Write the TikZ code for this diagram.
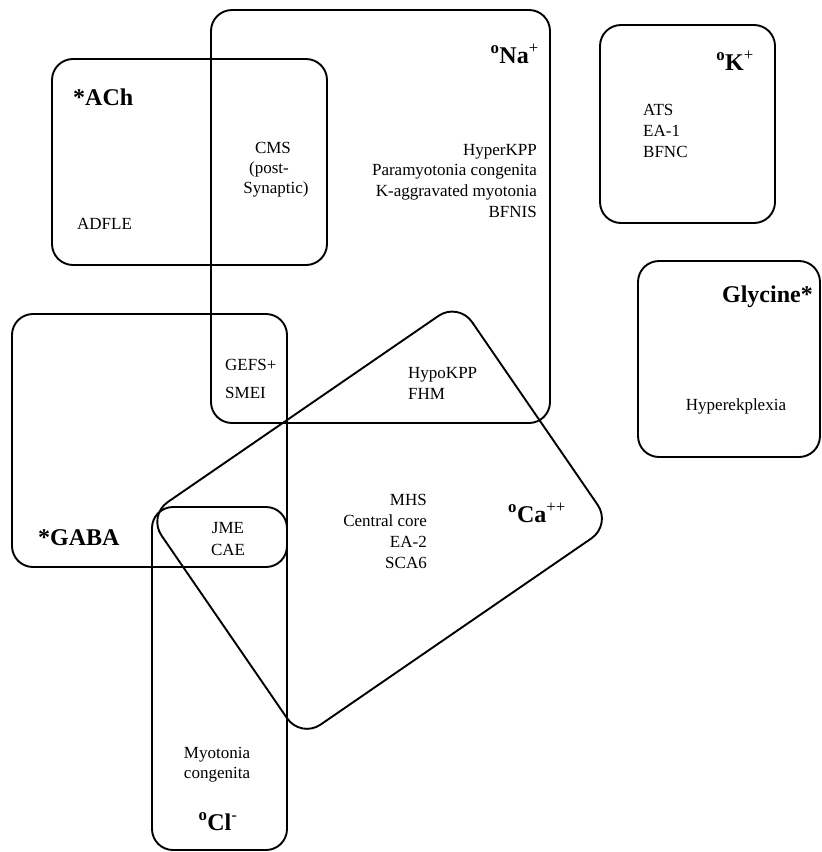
\documentclass[tikz,border=0pt]{standalone}
\usepackage{fontspec}
\setmainfont{Liberation Serif}
\begin{document}
\begin{tikzpicture}[x=1pt,y=-1pt,
  box/.style={draw, line width=1.9pt, rounded corners=21pt},
  lbl/.style={font=\fontsize{17}{20.7}\selectfont, inner sep=0pt},
  ttl/.style={font=\fontsize{24}{28}\selectfont\bfseries, inner sep=0pt}]
\useasboundingbox (0,0) rectangle (822,852);
% sets
\draw[box] (211,10) rectangle (550,423);   % Na
\draw[box] (52,59) rectangle (327,265);    % ACh
\draw[box] (600,25) rectangle (775,223);   % K
\draw[box] (638,261) rectangle (820,457);  % Glycine
\draw[box] (12,314) rectangle (287,567);   % GABA
\draw[box] (152,507) rectangle (287,850);  % Cl
\draw[box, rounded corners=24pt] (458.4,302.2) -- (611.3,524.7) -- (300.8,738.2) -- (147.9,515.7) -- cycle; % Ca
% titles
\node[ttl, anchor=base west] (tach) at (73,105) {*ACh};
\node[ttl, anchor=base east] (tna) at (539,63) {\textsuperscript{o}Na\textsuperscript{\mdseries+}};
\node[ttl, anchor=base east] (tk) at (754,70) {\textsuperscript{o}K\textsuperscript{\mdseries+}};
\node[ttl, anchor=base east] (tgly) at (813,302) {Glycine*};
\node[ttl, anchor=base west] (tgaba) at (38,545) {*GABA};
\node[ttl, anchor=base west] (tca) at (508,522) {\textsuperscript{o}Ca\textsuperscript{\mdseries++}};
\node[ttl, anchor=base] (tcl) at (218,830) {\textsuperscript{o}Cl\textsuperscript{\mdseries-}};
% ACh / Na overlap
\node[lbl, anchor=base] (cms1) at (273,153) {CMS};
\node[lbl, anchor=base] (cms2) at (269,173) {(post-};
\node[lbl, anchor=base] (cms3) at (276,193) {Synaptic)};
\node[lbl, anchor=base west] (adfle) at (77,229) {ADFLE};
% Na
\node[lbl, anchor=base east] (na1) at (537,155) {HyperKPP};
\node[lbl, anchor=base east] (na2) at (537,175.7) {Paramyotonia congenita};
\node[lbl, anchor=base east] (na3) at (537,196.4) {K-aggravated myotonia};
\node[lbl, anchor=base east] (na4) at (537,217) {BFNIS};
% K
\node[lbl, anchor=base west] (k1) at (643,115) {ATS};
\node[lbl, anchor=base west] (k2) at (643,136) {EA-1};
\node[lbl, anchor=base west] (k3) at (643,157) {BFNC};
% Glycine
\node[lbl, anchor=base] (gly1) at (736,410) {Hyperekplexia};
% GABA / Na
\node[lbl, anchor=base west] (g1) at (225,370) {GEFS+};
\node[lbl, anchor=base west] (g2) at (225,398) {SMEI};
% Na / Ca
\node[lbl, anchor=base west] (h1) at (408,378) {HypoKPP};
\node[lbl, anchor=base west] (h2) at (408,399) {FHM};
% Ca
\node[lbl, anchor=base east] (c1) at (427,505) {MHS};
\node[lbl, anchor=base east] (c2) at (427,526) {Central core};
\node[lbl, anchor=base east] (c3) at (427,547) {EA-2};
\node[lbl, anchor=base east] (c4) at (427,568) {SCA6};
% GABA / Cl
\node[lbl, anchor=base] (j1) at (228,533) {JME};
\node[lbl, anchor=base] (j2) at (228,555) {CAE};
% Cl
\node[lbl, anchor=base] (m1) at (217,758) {Myotonia};
\node[lbl, anchor=base] (m2) at (217,778) {congenita};
\end{tikzpicture}
\end{document}
